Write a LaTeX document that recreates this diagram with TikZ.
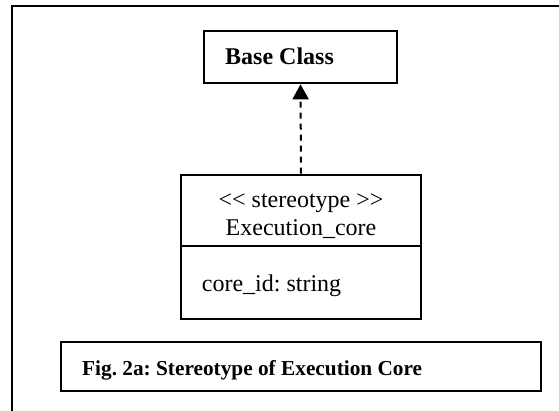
\documentclass[tikz,border=0pt]{standalone}
\usepackage{fontspec}
\setmainfont{Liberation Serif}
\usetikzlibrary{arrows.meta}
\frenchspacing
\begin{document}
\begin{tikzpicture}[x=1pt,y=-1pt,
  umlbox/.style={draw=black, line width=2.6pt, inner sep=0pt},
  txt/.style={inner sep=0pt, font=\fontsize{24}{28}\selectfont},
  boldtxt/.style={inner sep=0pt, font=\bfseries\fontsize{24}{28}\selectfont},
  captxt/.style={inner sep=0pt, font=\bfseries\fontsize{21.3}{25}\selectfont},
  realize/.style={line width=2pt, dash pattern=on 6pt off 5pt,
    -{Triangle[length=15pt,width=16pt]}},
  frame/.style={line width=1.2pt}]
\useasboundingbox (0,0) rectangle (559,411);

% page frame (top and left edges only)
\coordinate (frameTR) at (559,6);
\coordinate (frameTL) at (12,6);
\coordinate (frameBL) at (12,411);
\draw[frame] (frameTR) -- (frameTL) -- (frameBL);

% base class
\node[umlbox, minimum width=193pt, minimum height=52pt] (base) at (300.5,57) {};
\node[boldtxt, anchor=base west] (basetext) at (225,65) {Base Class};

% stereotyped class with one attribute compartment
\node[umlbox, minimum width=240pt, minimum height=144pt] (core) at (301,247) {};
\coordinate (divy) at (0,246);
\draw[line width=2.6pt] (core.west |- divy) -- (core.east |- divy);
\node[txt, anchor=base] (stereo) at (301,208) {<\kern0pt< stereotype >\kern0pt>};
\node[txt, anchor=base] (ename) at (301,236) {Execution\_core};
\node[txt, anchor=base west] (attr) at (201.7,292) {core\_id: string};

% realization arrow
\draw[realize] (core.north) -- (base.south);

% caption
\node[umlbox, minimum width=480pt, minimum height=49pt] (cap) at (301,366.5) {};
\node[captxt, anchor=base west] (captext) at (82,375) {Fig. 2a: Stereotype of Execution Core};
\end{tikzpicture}
\end{document}
